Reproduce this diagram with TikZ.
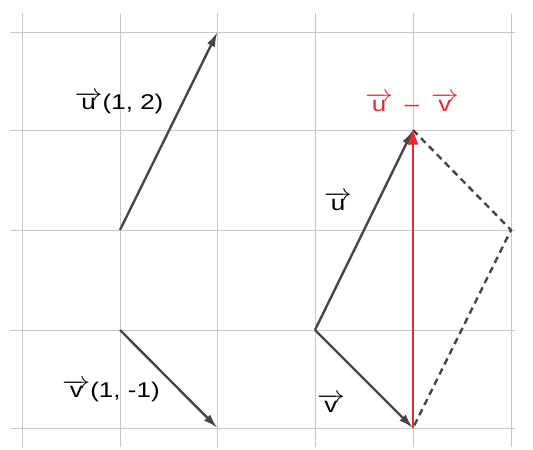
\documentclass[tikz,border=0pt]{standalone}
\usepackage{fontspec}
\setmainfont{Liberation Sans}
\usetikzlibrary{arrows.meta}
\definecolor{gridc}{RGB}{200,200,200}
\definecolor{vecc}{RGB}{70,70,70}
\definecolor{redc}{RGB}{235,40,50}
\tikzset{
  gridline/.style={draw=gridc, line width=0.6pt},
  vecarrow/.style={draw=vecc, line width=1.8pt, -{Latex[length=11pt,width=6.5pt]}},
  redarrow/.style={draw=redc, line width=1.1pt, -{Triangle[length=11pt,width=7.5pt]}},
  dashline/.style={draw=vecc, line width=1.8pt, dash pattern=on 5pt off 3.5pt},
  lbl/.style={font=\fontsize{16}{18}\selectfont, text=black, inner sep=1pt, xscale=1.22, transform shape},
  redlbl/.style={lbl, text=redc}
}
\newcommand{\vecx}[1]{$\overrightarrow{\hbox{#1}}$}
\begin{document}
\begin{tikzpicture}[x=0.75pt,y=-0.75pt]
\useasboundingbox (0,0) rectangle (533,450);
% grid
\foreach \gx in {22,120,217.5,315,413,511} \draw[gridline] (\gx,13) -- (\gx,447);
\foreach \gy in {32,130,230,330,428} \draw[gridline] (10,\gy) -- (515,\gy);
% points
\coordinate (uA) at (120,230);
\coordinate (uB) at (217.5,32);
\coordinate (vA) at (120,330);
\coordinate (vB) at (217.5,428);
\coordinate (O) at (315,330);
\coordinate (U) at (413,130);
\coordinate (V) at (413,428);
\coordinate (W) at (511,230);
% vectors
\draw[dashline] (U) -- (W) -- (V);
\draw[vecarrow] (uA) -- (uB);
\draw[vecarrow] (vA) -- (vB);
\draw[vecarrow] (O) -- (U);
\draw[vecarrow] (O) -- (V);
\draw[redarrow] (V) -- (U);
% labels
\node[lbl] (lu) at (119,103) {\vecx{u}(1, 2)};
\node[lbl] (lv) at (111,391) {\vecx{v}(1, -1)};
\node[lbl] (ru) at (338,201) {\vecx{u}};
\node[lbl] (rv) at (331,403) {\vecx{v}};
\node[redlbl] (rd) at (412,102) {\vecx{u}\, -- \,\vecx{v}};
\end{tikzpicture}
\end{document}
